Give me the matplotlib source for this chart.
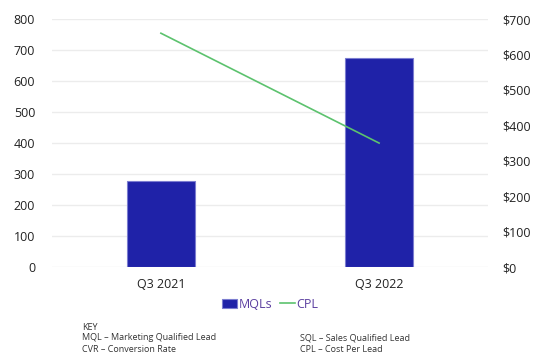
import matplotlib.pyplot as plt
import numpy as np

plt.rcParams['font.family'] = ['Open Sans', 'DejaVu Sans']

# data
quarters = ['Q3 2021', 'Q3 2022']
mqls = [278, 674]
cpl = [660, 350]

bar_color = '#1f22a8'
line_color = '#5cc26e'

fig = plt.figure(figsize=(5.51, 3.59), dpi=100)
ax = fig.add_axes([0.094, 0.256, 0.792, 0.691])
ax2 = ax.twinx()

x = np.arange(len(quarters))
bars = ax.bar(x, mqls, width=0.31, color=bar_color, edgecolor='#7b7dd0', linewidth=0.8,
              label='MQLs', zorder=2)
line, = ax2.plot(x, cpl, color=line_color, linewidth=1.2, label='CPL', zorder=3)

ax.set_xlim(-0.5, 1.5)
ax.set_ylim(0, 800)
ax.set_yticks(range(0, 801, 100))
ax2.set_ylim(0, 700)
ax2.set_yticks(range(0, 701, 100))
ax2.set_yticklabels(['$' + str(v) for v in range(0, 701, 100)])
ax.set_xticks(x)
ax.set_xticklabels(quarters)

ax.grid(axis='y', color='#ececec', linewidth=1, zorder=0)
ax.set_axisbelow(True)
for a in (ax, ax2):
    for s in a.spines.values():
        s.set_visible(False)
    a.tick_params(length=0, labelsize=9, colors='#222222')
ax.tick_params(axis='y', pad=12)
ax.tick_params(axis='x', pad=8)
ax2.tick_params(axis='y', pad=10)

leg = fig.legend([bars, line], ['MQLs', 'CPL'], loc='center', bbox_to_anchor=(0.49, 0.153),
                 ncol=2, frameon=False, fontsize=9, handlelength=1.2, handletextpad=0.1,
                 columnspacing=0.6, handleheight=0.7)
for t in leg.get_texts():
    t.set_color('#5b3fa0')

key_color = '#333333'
fig.text(0.149, 1 - 327 / 359, 'KEY', fontsize=6.5, color=key_color, va='center')
fig.text(0.149, 1 - 338 / 359, 'MQL – Marketing Qualified Lead', fontsize=6.5, color=key_color, va='center')
fig.text(0.149, 1 - 350 / 359, 'CVR – Conversion Rate', fontsize=6.5, color=key_color, va='center')
fig.text(0.545, 1 - 338 / 359, 'SQL – Sales Qualified Lead', fontsize=6.5, color=key_color, va='center')
fig.text(0.545, 1 - 350 / 359, 'CPL – Cost Per Lead', fontsize=6.5, color=key_color, va='center')

fig.savefig('out.png', dpi=100)
